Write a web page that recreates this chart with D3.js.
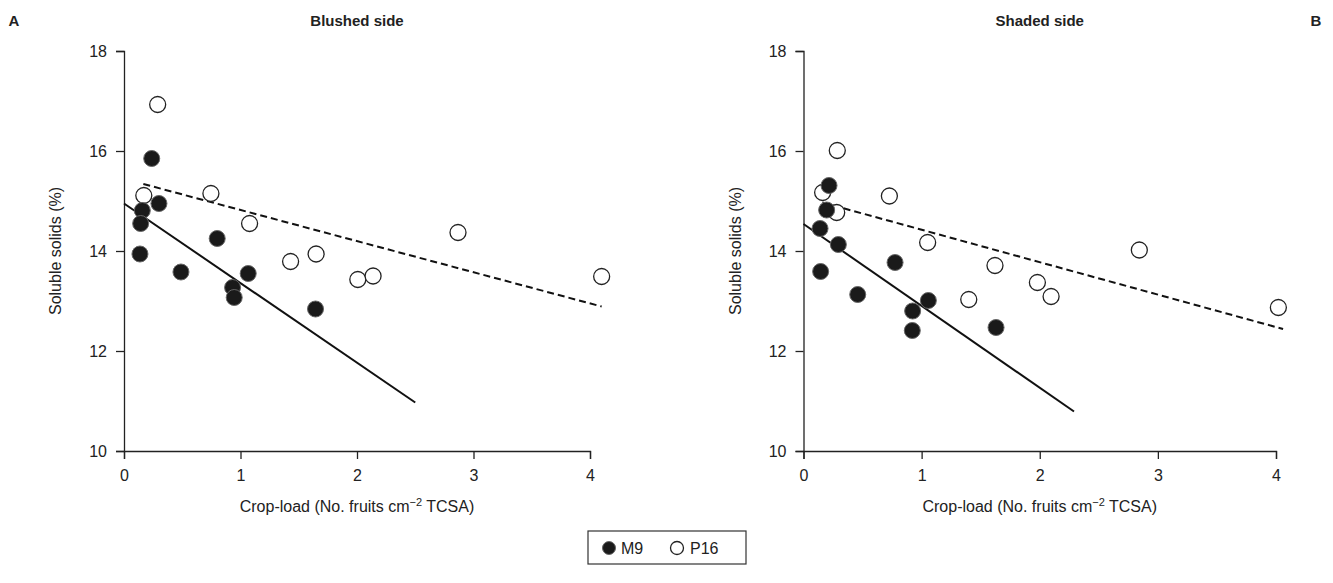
<!DOCTYPE html>
<html>
<head>
<meta charset="utf-8">
<script src="https://cdn.jsdelivr.net/npm/d3@7"></script>
<style>
  body { margin: 0; background: #fff; }
  text { font-family: "Liberation Sans", Arial, sans-serif; fill: #222; }
</style>
</head>
<body>
<div id="graph"></div>
<script>
// --- data ---
const xTicks = [0, 1, 2, 3, 4];
const yTicks = [10, 12, 14, 16, 18];

// panel A (blushed side)
const loadM9A   = [0.238, 0.30, 0.157, 0.143, 0.137, 0.489, 0.80, 0.932, 0.946, 1.066, 1.644];
const solidsM9A = [15.85, 14.95, 14.81, 14.55, 13.94, 13.58, 14.25, 13.27, 13.07, 13.55, 12.84];
const loadP16A   = [0.17, 0.289, 0.746, 1.078, 1.43, 1.649, 2.007, 2.138, 2.867, 4.1];
const solidsP16A = [15.11, 16.93, 15.15, 14.55, 13.79, 13.94, 13.43, 13.5, 14.37, 13.49];
const fitM9A  = [[0, 14.95], [2.5, 10.97]];
const fitP16A = [[0.166, 15.34], [4.1, 12.89]];

// panel B (shaded side)
const loadM9B   = [0.216, 0.196, 0.14, 0.145, 0.295, 0.775, 0.459, 0.924, 0.921, 1.057, 1.63];
const solidsM9B = [15.31, 14.82, 14.45, 13.59, 14.13, 13.77, 13.13, 12.8, 12.41, 13.01, 12.47];
const loadP16B   = [0.286, 0.162, 0.281, 0.727, 1.051, 1.399, 1.621, 1.98, 2.096, 2.843, 4.02];
const solidsP16B = [16.01, 15.17, 14.77, 15.1, 14.17, 13.03, 13.71, 13.37, 13.09, 14.02, 12.87];
const fitM9B  = [[0, 14.54], [2.29, 10.79]];
const fitP16B = [[0.16, 14.97], [4.06, 12.44]];

const width = 1333, height = 583;

const svg = d3.select("#graph")
    .append("svg")
    .attr("width", width)
    .attr("height", height);

function panel(opts) {
    const x = d3.scaleLinear().domain([0, 4]).range([opts.left, opts.right]);
    const y = d3.scaleLinear().domain([10, 18]).range([451, 51]);

    // axes
    const gx = svg.append("g")
        .attr("transform", "translate(0," + y(10) + ")")
        .call(d3.axisBottom(x).tickValues(xTicks).tickSize(8).tickPadding(11).tickFormat(d3.format("d")));
    const gy = svg.append("g")
        .attr("transform", "translate(" + x(0) + ",0)")
        .call(d3.axisLeft(y).tickValues(yTicks).tickSize(8).tickPadding(9).tickFormat(d3.format("d")));
    [gx, gy].forEach(function (g) {
        g.select(".domain").attr("stroke", "#222").attr("stroke-width", 1.3);
        g.selectAll(".tick line").attr("stroke", "#222").attr("stroke-width", 1.3);
        g.selectAll(".tick text")
            .style("font-family", "Liberation Sans, Arial, sans-serif")
            .style("font-size", "16px")
            .attr("fill", "#222");
    });

    // regression lines
    const line = d3.line().x(function (d) { return x(d[0]); }).y(function (d) { return y(d[1]); });
    svg.append("path").datum(opts.fitM9)
        .attr("d", line).attr("fill", "none")
        .attr("stroke", "#111").attr("stroke-width", 2);
    svg.append("path").datum(opts.fitP16)
        .attr("d", line).attr("fill", "none")
        .attr("stroke", "#111").attr("stroke-width", 2)
        .attr("stroke-dasharray", "7,4");

    // points: P16 first (open), then M9 (filled) on top
    svg.selectAll(null)
        .data(d3.zip(opts.loadP16, opts.solidsP16))
        .enter().append("circle")
        .attr("cx", function (d) { return x(d[0]); })
        .attr("cy", function (d) { return y(d[1]); })
        .attr("r", 8)
        .attr("fill", "#fff")
        .attr("stroke", "#222")
        .attr("stroke-width", 1.3);
    svg.selectAll(null)
        .data(d3.zip(opts.loadM9, opts.solidsM9))
        .enter().append("circle")
        .attr("cx", function (d) { return x(d[0]); })
        .attr("cy", function (d) { return y(d[1]); })
        .attr("r", 8)
        .attr("fill", "#1a1a1a")
        .attr("stroke", "#666")
        .attr("stroke-width", 1);

    // title
    svg.append("text")
        .attr("x", x(2)).attr("y", 26)
        .attr("text-anchor", "middle")
        .style("font-size", "15px").style("font-weight", "bold")
        .text(opts.title);

    // axis titles
    svg.append("text")
        .attr("transform", "translate(" + (x(0) - 63) + "," + y(14) + ") rotate(-90)")
        .attr("text-anchor", "middle")
        .style("font-size", "16px")
        .text("Soluble solids (%)");
    const xl = svg.append("text")
        .attr("x", x(2)).attr("y", 512)
        .attr("text-anchor", "middle")
        .style("font-size", "16px");
    xl.append("tspan").text("Crop-load (No. fruits cm");
    xl.append("tspan").attr("dy", -6).style("font-size", "11px").text("\u22122");
    xl.append("tspan").attr("dy", 6).text(" TCSA)");

    // panel letter
    svg.append("text")
        .attr("x", opts.letterX).attr("y", 26)
        .attr("text-anchor", "middle")
        .style("font-size", "15px").style("font-weight", "bold")
        .text(opts.letter);
}

panel({left: 124, right: 590, title: "Blushed side", letter: "A", letterX: 14,
    loadM9: loadM9A, solidsM9: solidsM9A, loadP16: loadP16A, solidsP16: solidsP16A,
    fitM9: fitM9A, fitP16: fitP16A});
panel({left: 803.5, right: 1276, title: "Shaded side", letter: "B", letterX: 1316,
    loadM9: loadM9B, solidsM9: solidsM9B, loadP16: loadP16B, solidsP16: solidsP16B,
    fitM9: fitM9B, fitP16: fitP16B});

// legend
const legend = svg.append("g");
legend.append("rect")
    .attr("x", 588).attr("y", 531).attr("width", 158).attr("height", 33)
    .attr("fill", "#fff").attr("stroke", "#333").attr("stroke-width", 1.2);
legend.append("circle")
    .attr("cx", 609).attr("cy", 548).attr("r", 6.5)
    .attr("fill", "#1a1a1a").attr("stroke", "#666").attr("stroke-width", 1);
legend.append("text")
    .attr("x", 621).attr("y", 554)
    .style("font-size", "16px").text("M9");
legend.append("circle")
    .attr("cx", 677).attr("cy", 548).attr("r", 6.5)
    .attr("fill", "#fff").attr("stroke", "#222").attr("stroke-width", 1.3);
legend.append("text")
    .attr("x", 690).attr("y", 554)
    .style("font-size", "16px").text("P16");
</script>
</body>
</html>
